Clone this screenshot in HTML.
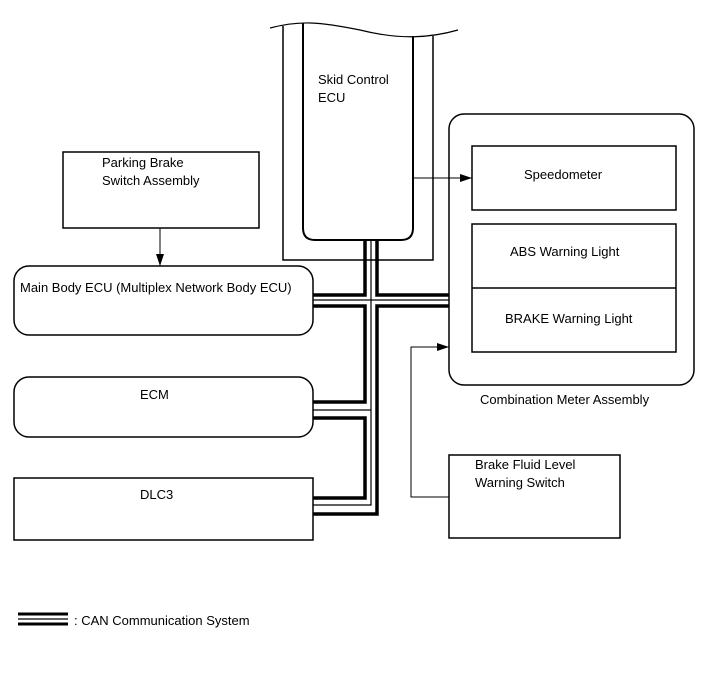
<!DOCTYPE html>
<html><head><meta charset="utf-8"><style>
html,body{margin:0;padding:0;background:#fff;}
svg{display:block;}
text{font-family:"Liberation Sans",Arial,sans-serif;font-size:13px;fill:#000;}
</style></head><body>
<svg width="713" height="681" viewBox="0 0 713 681" xmlns="http://www.w3.org/2000/svg">
<defs><marker id="ah" markerWidth="12" markerHeight="8" refX="12" refY="4" orient="auto" markerUnits="userSpaceOnUse"><path d="M0,0 L12,4 L0,8 z" fill="#000"/></marker></defs>
<g fill="none" stroke="#000" stroke-width="1.5">
<!-- skid control -->
<path d="M270,28 C300,20 320,22 360,30 C400,40 430,38 458,30" stroke-width="1.2"/>
<path d="M283,26 V260 H433 V36"/>
<path d="M303,23 V228 Q303,240 315,240 H401 Q413,240 413,228 V36" stroke-width="2"/>
<!-- parking -->
<rect x="63" y="152" width="196" height="76"/>
<rect x="14" y="266" width="299" height="69" rx="15"/>
<rect x="14" y="377" width="299" height="60" rx="15"/>
<rect x="14" y="478" width="299" height="62"/>
<rect x="449" y="114" width="245" height="271" rx="15"/>
<rect x="472" y="146" width="204" height="64"/>
<rect x="472" y="224" width="204" height="128"/>
<line x1="472" y1="288" x2="676" y2="288"/>
<rect x="449" y="455" width="171" height="83"/>
<path d="M160,228 V266" stroke-width="1" marker-end="url(#ah)"/>
<path d="M413,178 H472" stroke-width="1" marker-end="url(#ah)"/>
<path d="M449,497 H411 V347 H449" stroke-width="1" marker-end="url(#ah)"/>
<!-- CAN -->
<g stroke-width="3.5">
<path d="M365,240 V295 H313"/>
<path d="M377,240 V295 H449"/>
<path d="M313,306 H365 V402 H313"/>
<path d="M313,418 H365 V498 H313"/>
<path d="M449,306 H377 V514 H313"/>
</g>
<g stroke-width="1.2">
<path d="M371,240 V505 H313"/>
<path d="M313,300 H449"/>
<path d="M313,410 H371"/>
</g>
<g stroke-width="3"><line x1="18" y1="614" x2="68" y2="614"/><line x1="18" y1="624" x2="68" y2="624"/></g>
<line x1="18" y1="619" x2="68" y2="619" stroke-width="1.2"/>
</g>
<text x="318" y="84">Skid Control</text>
<text x="318" y="102">ECU</text>
<text x="102" y="167">Parking Brake</text>
<text x="102" y="185">Switch Assembly</text>
<text x="20" y="292">Main Body ECU (Multiplex Network Body ECU)</text>
<text x="140" y="399">ECM</text>
<text x="140" y="499">DLC3</text>
<text x="524" y="179">Speedometer</text>
<text x="510" y="256">ABS Warning Light</text>
<text x="505" y="323">BRAKE Warning Light</text>
<text x="480" y="404">Combination Meter Assembly</text>
<text x="475" y="469">Brake Fluid Level</text>
<text x="475" y="487">Warning Switch</text>
<text x="74" y="625">: CAN Communication System</text>
</svg>
</body></html>
